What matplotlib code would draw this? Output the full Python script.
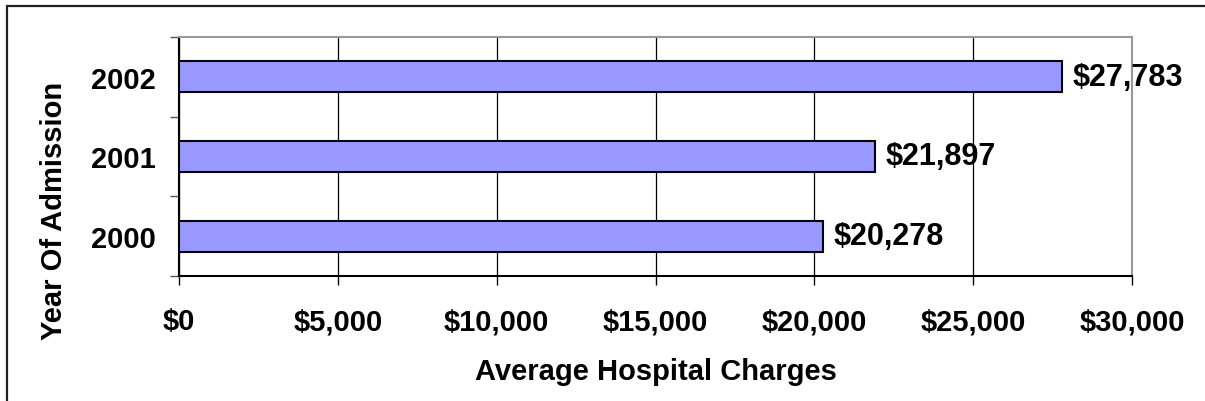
import matplotlib
matplotlib.use("Agg")
from matplotlib import pyplot as plt
from matplotlib.patches import Rectangle
from matplotlib.ticker import FuncFormatter, FixedLocator

years = ["2000", "2001", "2002"]
charges = [20278, 21897, 27783]
x_ticks = [0, 5000, 10000, 15000, 20000, 25000, 30000]

plt.rcParams["font.family"] = ["Liberation Sans", "DejaVu Sans"]
plt.rcParams["font.weight"] = "bold"

fig = plt.figure(figsize=(12.05, 4.02), dpi=100)
ax = fig.add_axes([179 / 1205, 1 - 277 / 402, (1132 - 179) / 1205, (277 - 38) / 402])

# outer chart frame (only left/top edges visible)
fig.patches.append(Rectangle((7 / 1205, -0.1), 1.2, 1 - 7 / 402 + 0.1,
                             transform=fig.transFigure, fill=False,
                             edgecolor="#222222", linewidth=1.6, clip_on=False))

pos = range(len(years))
ax.barh(pos, charges, height=0.39, color="#9999FF", edgecolor="black",
        linewidth=1.5, zorder=3)

for p, v in zip(pos, charges):
    ax.text(v + 330, p, f"${v:,}", va="center", ha="left",
            fontsize=22, fontweight="bold", zorder=4)

ax.set_xlim(0, 30000)
ax.set_ylim(-0.5, len(years) - 0.5)
ax.set_xticks(x_ticks)
ax.xaxis.set_major_formatter(FuncFormatter(lambda v, _: f"${v:,.0f}"))
ax.set_yticks(list(pos))
ax.set_yticklabels(years)
ax.yaxis.set_minor_locator(FixedLocator([-0.5, 0.5, 1.5, 2.5]))

ax.tick_params(axis="x", length=6.5, width=1, color="black", pad=16,
               labelsize=21)
ax.tick_params(axis="y", which="major", length=0, pad=17, labelsize=21)
ax.tick_params(axis="y", which="minor", length=6.5, width=1, color="#555555")

ax.grid(axis="x", color="black", linewidth=0.9, zorder=0)
ax.set_axisbelow(True)

for side in ["top", "right"]:
    ax.spines[side].set_color("#999999")
    ax.spines[side].set_linewidth(1.5)
for side in ["left", "bottom"]:
    ax.spines[side].set_color("black")
    ax.spines[side].set_linewidth(1.5)

ax.set_xlabel("Average Hospital Charges", fontsize=21, fontweight="bold",
              labelpad=16)
ax.text((54 - 179) / 953, (277 - 211) / 239, "Year Of Admission",
        transform=ax.transAxes, rotation=90, ha="center", va="center",
        fontsize=21, fontweight="bold", clip_on=False)

fig.savefig("out.png", dpi=100)
